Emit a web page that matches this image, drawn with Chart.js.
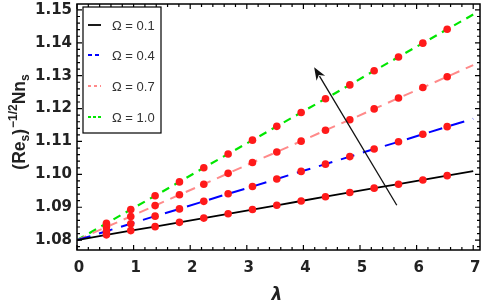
<!DOCTYPE html>
<html><head><meta charset="utf-8">
<script src="https://cdn.jsdelivr.net/npm/chart.js@4"></script>
<style>html,body{margin:0;padding:0;background:#fff}canvas{display:block}</style>
</head><body>
<canvas id="c" width="484" height="305"></canvas>
<script>
// ---- data ----
const lambdaPts = [0.52,0.95,1.38,1.81,2.24,2.67,3.10,3.53,3.96,4.39,4.82,5.25,5.68,6.11,6.54];
const omegaLabels = ['Ω = 0.1','Ω = 0.4','Ω = 0.7','Ω = 1.0'];
const nnOmega01 = [1.0816,1.0829,1.0841,1.0854,1.0867,1.0880,1.0893,1.0906,1.0919,1.0932,1.0945,1.0958,1.0970,1.0983,1.0996];
const nnOmega04 = [1.0827,1.0850,1.0873,1.0895,1.0918,1.0941,1.0963,1.0986,1.1009,1.1031,1.1054,1.1077,1.1099,1.1122,1.1145];
const nnOmega07 = [1.0840,1.0872,1.0905,1.0938,1.0970,1.1003,1.1036,1.1068,1.1101,1.1134,1.1166,1.1199,1.1232,1.1264,1.1297];
const nnOmega10 = [1.0851,1.0893,1.0935,1.0977,1.1020,1.1062,1.1104,1.1146,1.1188,1.1230,1.1272,1.1315,1.1357,1.1399,1.1441];
const curveStartX = 0, curveEndX = 7;
const curveStartY = [1.08,1.08,1.08,1.08];
const curveEndY = [1.1010,1.1169,1.1332,1.1486];
const xTicks = [0,1,2,3,4,5,6,7];
const yTicks = [1.08,1.09,1.10,1.11,1.12,1.13,1.14,1.15];
const arrowFrom = {x:5.65, y:1.0906};
const arrowTo = {x:4.19, y:1.1326};

// ---- styles ----
const seriesValues = [nnOmega01,nnOmega04,nnOmega07,nnOmega10];
const colors = ['#000000','#0000ff','#ff8a8a','#00e600'];
const dashes = [[],[14,9],[10,7],[8,6]];
const legendDashes = [[],[4,3],[3,3],[3,2]];
const widths = [1.8,2,2,2.2];

const datasets = [];
seriesValues.forEach((vals,i)=>{
  const pts = [{x:curveStartX,y:curveStartY[i]}].concat(lambdaPts.map((x,j)=>({x:x,y:vals[j]}))).concat([{x:curveEndX,y:curveEndY[i]}]);
  datasets.push({label:omegaLabels[i],data:pts,borderColor:colors[i],borderWidth:widths[i],borderDash:dashes[i],
    pointRadius:0,showLine:true,fill:false,tension:0,order:2});
});
seriesValues.forEach((vals,i)=>{
  datasets.push({label:omegaLabels[i]+' pts',data:lambdaPts.map((x,j)=>({x:x,y:vals[j]})),
    showLine:false,pointRadius:3.8,pointBackgroundColor:'#ff1a1a',pointBorderColor:'#ff1a1a',pointBorderWidth:0,order:1});
});

const deco = {
  id:'deco',
  afterDatasetsDraw(chart){
    const ctx = chart.ctx, xs = chart.scales.x, ys = chart.scales.y, a = chart.chartArea;
    ctx.save();
    // frame
    ctx.strokeStyle='#000'; ctx.lineWidth=1.5; ctx.setLineDash([]);
    ctx.strokeRect(a.left,a.top,a.right-a.left,a.bottom-a.top);
    // ticks
    ctx.lineWidth=1.2;
    ctx.beginPath();
    for(let k=0;k<=35;k++){
      const v=k*0.2; if(v>xs.max) break;
      const px=xs.getPixelForValue(v); const major = (k%5===0); const L = major?5:3;
      ctx.moveTo(px,a.bottom); ctx.lineTo(px,a.bottom-L);
      ctx.moveTo(px,a.top); ctx.lineTo(px,a.top+L);
    }
    for(let k=0;k<=40;k++){
      const v=1.078+k*0.002; if(v>ys.max) break;
      const py=ys.getPixelForValue(v); const major = (Math.round((v-1.08)/0.002)%5===0); const L = major?5:3;
      ctx.moveTo(a.left,py); ctx.lineTo(a.left+L,py);
      ctx.moveTo(a.right,py); ctx.lineTo(a.right-L,py);
    }
    ctx.stroke();
    // tick labels
    ctx.fillStyle='#222';
    ctx.font='bold 15px "DejaVu Sans", sans-serif';
    ctx.textAlign='center'; ctx.textBaseline='middle';
    xTicks.forEach(v=>ctx.fillText(String(v),xs.getPixelForValue(v)+2,268));
    ctx.textAlign='right';
    yTicks.forEach(v=>ctx.fillText(v.toFixed(2),72,ys.getPixelForValue(v)));
    // x title
    ctx.font='italic bold 17px "DejaVu Sans", sans-serif';
    ctx.textAlign='center'; ctx.textBaseline='alphabetic';
    ctx.fillText('λ',277,300);
    // y title (rotated)
    ctx.save();
    ctx.translate(25,122); ctx.rotate(-Math.PI/2);
    const parts=[['(Re',17.5,0],['s',12,4],[')',17.5,0],['−1/2',12,-8],['Nn',17.5,0],['s',12,4]];
    let w=0;
    parts.forEach(p=>{ctx.font='bold '+p[1]+'px "Liberation Sans", Arial, sans-serif'; w+=ctx.measureText(p[0]).width+(p[0]===')'?1:0);});
    let cx=-w/2; ctx.textAlign='left'; ctx.textBaseline='alphabetic';
    parts.forEach(p=>{ctx.font='bold '+p[1]+'px "Liberation Sans", Arial, sans-serif'; ctx.fillText(p[0],cx,p[2]); cx+=ctx.measureText(p[0]).width+(p[0]===')'?1:0);});
    ctx.restore();
    // arrow
    const x1=xs.getPixelForValue(arrowFrom.x), y1=ys.getPixelForValue(arrowFrom.y);
    const x2=xs.getPixelForValue(arrowTo.x), y2=ys.getPixelForValue(arrowTo.y);
    const ang=Math.atan2(y2-y1,x2-x1), hl=13, hw=5;
    ctx.strokeStyle='#111'; ctx.fillStyle='#111'; ctx.lineWidth=1.3;
    ctx.beginPath(); ctx.moveTo(x1,y1); ctx.lineTo(x2-Math.cos(ang)*hl*0.8,y2-Math.sin(ang)*hl*0.8); ctx.stroke();
    ctx.beginPath();
    ctx.moveTo(x2,y2);
    ctx.lineTo(x2-hl*Math.cos(ang)+hw*Math.sin(ang), y2-hl*Math.sin(ang)-hw*Math.cos(ang));
    ctx.lineTo(x2-hl*0.7*Math.cos(ang), y2-hl*0.7*Math.sin(ang));
    ctx.lineTo(x2-hl*Math.cos(ang)-hw*Math.sin(ang), y2-hl*Math.sin(ang)+hw*Math.cos(ang));
    ctx.closePath(); ctx.fill();
    // legend
    const lx=83, ly=7, lw=78, lh=126;
    ctx.fillStyle='#fff'; ctx.fillRect(lx,ly,lw,lh);
    ctx.strokeStyle='#000'; ctx.lineWidth=1.2; ctx.strokeRect(lx,ly,lw,lh);
    const rowY=[25,55,86,117];
    ctx.font='13px "Liberation Sans", Arial, sans-serif'; ctx.textAlign='left'; ctx.textBaseline='middle';
    omegaLabels.forEach((t,i)=>{
      ctx.strokeStyle=colors[i]; ctx.lineWidth=1.8; ctx.setLineDash(legendDashes[i]);
      ctx.beginPath(); ctx.moveTo(88,rowY[i]); ctx.lineTo(101,rowY[i]); ctx.stroke();
      ctx.setLineDash([]);
      ctx.fillStyle='#333'; ctx.fillText(t,112,rowY[i]+1);
    });
    ctx.restore();
  }
};

new Chart(document.getElementById('c'),{
  type:'scatter',
  data:{datasets:datasets},
  options:{
    responsive:false, animation:false, devicePixelRatio:1,
    layout:{padding:{left:77,right:1,top:2,bottom:55}},
    plugins:{legend:{display:false},tooltip:{enabled:false}},
    scales:{
      x:{type:'linear',min:0,max:7.12,display:false},
      y:{type:'linear',min:1.077,max:1.1518,display:false}
    }
  },
  plugins:[deco]
});
</script>
</body></html>
